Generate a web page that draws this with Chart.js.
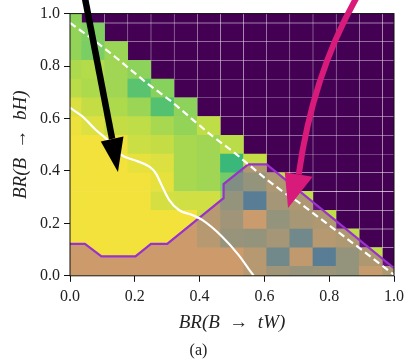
<!DOCTYPE html>
<html>
<head>
<meta charset="utf-8">
<script src="https://cdn.jsdelivr.net/npm/chart.js"></script>
<style>
  body { margin: 0; background: #fff; }
  #wrap { width: 409px; height: 362px; }
</style>
</head>
<body>
<div id="wrap"><canvas id="canvas" width="409" height="362"></canvas></div>
<script>
// scan grid: 15 points per axis, BR from 0 to 1 in steps of 1/14
var nGrid = 15
var xTicks = [0, 0.2, 0.4, 0.6, 0.8, 1.0]
var yTicks = [0, 0.2, 0.4, 0.6, 0.8, 1.0]

// heat values per row (row 0 = BR(bH) 0), only points with tW + bH <= 1
var zRow0 = [0.99, 0.99, 0.99, 0.99, 0.99, 0.99, 0.99, 0.99, 0.92, 0.86, 0.84, 0.85, 0.83, 0.97, 0.90]
var zRow1 = [0.99, 0.99, 0.99, 0.99, 0.99, 0.99, 0.99, 0.99, 0.92, 0.73, 0.95, 0.63, 0.83, 0.90]
var zRow2 = [0.99, 0.99, 0.99, 0.99, 0.99, 0.99, 0.92, 0.84, 0.83, 0.87, 0.73, 0.92, 0.90]
var zRow3 = [0.99, 0.99, 0.99, 0.99, 0.99, 0.99, 0.92, 0.86, 0.98, 0.83, 0.88, 0.90]
var zRow4 = [0.99, 0.99, 0.99, 0.99, 0.94, 0.93, 0.93, 0.83, 0.63, 0.87, 0.90]
var zRow5 = [0.99, 0.99, 0.99, 0.99, 0.97, 0.86, 0.85, 0.78, 0.83, 0.90]
var zRow6 = [0.99, 0.99, 0.99, 0.97, 0.95, 0.86, 0.85, 0.67, 0.91]
var zRow7 = [0.99, 0.99, 0.98, 0.92, 0.91, 0.86, 0.85, 0.89]
var zRow8 = [0.98, 0.95, 0.91, 0.90, 0.86, 0.83, 0.90]
var zRow9 = [0.95, 0.91, 0.87, 0.84, 0.72, 0.82]
var zRow10 = [0.89, 0.87, 0.85, 0.73, 0.81]
var zRow11 = [0.87, 0.88, 0.85, 0.82]
var zRow12 = [0.83, 0.79, 0.84]
var zRow13 = [0.83, 0.80]
var zRow14 = [0.82]
var zRows = [zRow0, zRow1, zRow2, zRow3, zRow4, zRow5, zRow6, zRow7,
             zRow8, zRow9, zRow10, zRow11, zRow12, zRow13, zRow14]

// excluded region edge (fill below it)
var edgeX = [0, 0.046, 0.097, 0.202, 0.25, 0.30, 0.474, 0.474, 0.55, 0.607, 1.0]
var edgeY = [0.122, 0.122, 0.074, 0.074, 0.122, 0.122, 0.296, 0.35, 0.425, 0.425, 0.029]

// expected limit (solid) and the tW + bH = 1 contour (dashed)
var solidX = [0, 0.039, 0.08, 0.11, 0.158, 0.204, 0.245, 0.265, 0.285, 0.306, 0.336, 0.377, 0.408, 0.469, 0.52, 0.561, 0.567]
var solidY = [0.641, 0.607, 0.556, 0.525, 0.461, 0.439, 0.416, 0.391, 0.34, 0.29, 0.251, 0.232, 0.213, 0.15, 0.08, 0.01, 0]
var dashX = [0, 0.08, 0.151, 0.232, 0.314, 0.37, 0.428, 0.51, 0.602, 0.663, 0.703, 0.805, 0.907, 1.0]
var dashY = [0.965, 0.893, 0.823, 0.740, 0.664, 0.605, 0.544, 0.467, 0.372, 0.315, 0.283, 0.188, 0.093, 0.004]

// arrows, in axis units
var blackShaft = [[0.046, 1.06], [0.130, 0.522]]
var blackHead = [[0.095, 0.512], [0.165, 0.531], [0.148, 0.396]]
var pinkShaft = [[0.884, 1.06], [0.749, 0.766], [0.706, 0.387]]
var pinkHead = [[0.663, 0.395], [0.749, 0.378], [0.673, 0.259]]

var serif = "'Liberation Serif', 'DejaVu Serif', serif"

var viridisStops = ['#440154', '#482878', '#3e4989', '#31688e', '#26828e',
                    '#1f9e89', '#38b77a', '#72cc66', '#b9dc48', '#f8e33a']
function hexRgb(h) {
    return [parseInt(h.substr(1, 2), 16), parseInt(h.substr(3, 2), 16), parseInt(h.substr(5, 2), 16)]
}
function viridis(t) {
    var p = Math.max(0, Math.min(1, t)) * (viridisStops.length - 1)
    var k = Math.min(Math.floor(p), viridisStops.length - 2)
    var f = p - k
    var a = hexRgb(viridisStops[k]), b = hexRgb(viridisStops[k + 1])
    return 'rgb(' + [0, 1, 2].map(function(c) { return Math.round(a[c] + (b[c] - a[c]) * f) }).join(',') + ')'
}

function pairs(xs, ys) {
    return xs.map(function(x, i) { return {x: x, y: ys[i]} })
}

var step = 1 / (nGrid - 1)
var datasets = []
for (var j = 0; j < nGrid; j++) {
    var pts = [], cols = [], widths = []
    for (var i = 0; i < nGrid; i++) {
        var inside = i < zRows[j].length
        pts.push({x: i * step, y: [(j - 0.5) * step, (j + 0.5) * step]})
        cols.push(viridis(inside ? zRows[j][i] : 0))
        // faint cell edges only on the dark part
        widths.push(inside ? 0 : 0.5)
    }
    datasets.push({
        type: 'bar', data: pts, backgroundColor: cols,
        borderWidth: widths, borderColor: 'rgba(255, 255, 255, 0.1)', borderSkipped: false,
        grouped: false, barPercentage: 1, categoryPercentage: 1, clip: 0, order: 10
    })
}
datasets.push({
    type: 'line', data: pairs(edgeX, edgeY), fill: 'origin',
    backgroundColor: 'rgba(150, 50, 180, 0.4)', borderColor: '#9932cc', borderWidth: 2.2,
    pointRadius: 0, tension: 0, order: 5
})
datasets.push({
    type: 'line', data: pairs(solidX, solidY), fill: false,
    borderColor: '#ffffff', borderWidth: 2.2, pointRadius: 0, cubicInterpolationMode: 'monotone', order: 2
})
datasets.push({
    type: 'line', data: pairs(dashX, dashY), fill: false,
    borderColor: '#ffffff', borderWidth: 2.2, borderDash: [7, 4], pointRadius: 0, tension: 0, order: 2
})

var frameAndArrows = {
    id: 'frameAndArrows',
    afterDatasetsDraw: function(chart) {
        var ctx = chart.ctx, a = chart.chartArea
        var xs = chart.scales.x, ys = chart.scales.y
        function px(p) { return [xs.getPixelForValue(p[0]), ys.getPixelForValue(p[1])] }
        ctx.save()
        ctx.strokeStyle = '#111'
        ctx.lineWidth = 1
        ctx.strokeRect(a.left, a.top, a.right - a.left, a.bottom - a.top)

        function head(pts, color) {
            ctx.fillStyle = color
            ctx.beginPath()
            pts.forEach(function(p, k) {
                var q = px(p)
                if (k == 0) ctx.moveTo(q[0], q[1]); else ctx.lineTo(q[0], q[1])
            })
            ctx.closePath()
            ctx.fill()
        }
        // black arrow
        var s0 = px(blackShaft[0]), s1 = px(blackShaft[1])
        ctx.strokeStyle = '#000'
        ctx.lineWidth = 6.5
        ctx.beginPath()
        ctx.moveTo(s0[0], s0[1])
        ctx.lineTo(s1[0], s1[1])
        ctx.stroke()
        head(blackHead, '#000')
        // pink arrow
        var p0 = px(pinkShaft[0]), pc = px(pinkShaft[1]), p1 = px(pinkShaft[2])
        ctx.strokeStyle = '#d81b7a'
        ctx.lineWidth = 6
        ctx.beginPath()
        ctx.moveTo(p0[0], p0[1])
        ctx.quadraticCurveTo(pc[0], pc[1], p1[0], p1[1])
        ctx.stroke()
        head(pinkHead, '#d81b7a')
        ctx.restore()
    }
}

let ctx = document.getElementById('canvas').getContext('2d')
let heatChart = new Chart(ctx, {
    type: 'bar',
    data: { datasets: datasets },
    options: {
        responsive: false,
        animation: false,
        layout: { padding: { top: 13.5, right: 12, left: 0, bottom: 0 } },
        plugins: {
            legend: { display: false },
            tooltip: { enabled: false },
            title: {
                display: true, position: 'bottom', text: '(a)', color: '#222',
                font: { family: serif, size: 16, weight: 'normal' },
                padding: { top: 0, bottom: 2 }
            }
        },
        scales: {
            x: {
                type: 'linear', min: 0, max: 1, offset: false,
                afterBuildTicks: function(s) { s.ticks = xTicks.map(function(v) { return {value: v} }) },
                afterFit: function(s) { s.height = 65 },
                ticks: {
                    callback: function(v) { return v.toFixed(1) },
                    font: { family: serif, size: 16 }, color: '#222', padding: 5,
                    maxRotation: 0, autoSkip: false
                },
                grid: { drawOnChartArea: false, drawTicks: true, tickLength: 6, tickColor: '#111', offset: false },
                border: { display: false },
                title: {
                    display: true, text: 'BR(B  \u2192  tW)', color: '#222',
                    font: { family: serif, size: 19, style: 'italic' },
                    padding: { top: 0, bottom: 6 }
                }
            },
            y: {
                type: 'linear', min: 0, max: 1,
                afterBuildTicks: function(s) { s.ticks = yTicks.map(function(v) { return {value: v} }) },
                afterFit: function(s) { s.width = 70 },
                ticks: {
                    callback: function(v) { return v.toFixed(1) },
                    font: { family: serif, size: 16 }, color: '#222', padding: 4
                },
                grid: { drawOnChartArea: false, drawTicks: true, tickLength: 6, tickColor: '#111' },
                border: { display: false },
                title: {
                    display: true, text: 'BR(B  \u2192  bH)', color: '#222',
                    font: { family: serif, size: 19, style: 'italic' },
                    padding: { top: 10, bottom: 0 }
                }
            }
        }
    },
    plugins: [frameAndArrows]
})
</script>
</body>
</html>
